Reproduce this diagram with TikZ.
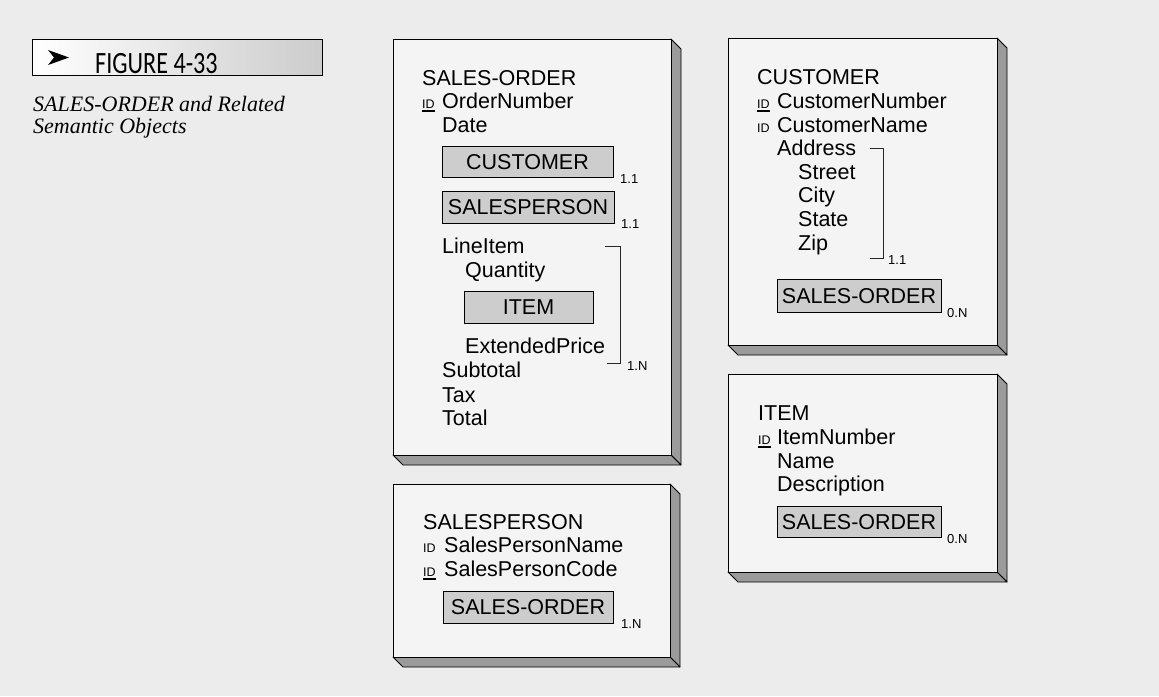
\documentclass[tikz,border=0pt]{standalone}
\usepackage{fontspec}
\setmainfont{Liberation Sans}
\newfontfamily\capserif{Liberation Serif}
\newfontfamily\figfont{Carlito}
\definecolor{bgcol}{RGB}{236,236,236}
\definecolor{facecol}{RGB}{244,244,244}
\definecolor{sidecol}{RGB}{155,155,155}
\definecolor{refcol}{RGB}{205,205,205}
\newcommand\attrfont{\fontsize{21.5}{24}\selectfont}
\newcommand\cardfont{\fontsize{13}{14}\selectfont}
\newcommand\idfont{\fontsize{12.5}{13}\selectfont}
\newcommand\semobj[4]{%
  \filldraw[side] (#3,#2) -- (#3+10,#2+10) -- (#3+10,#4+10) -- (#3,#4) -- cycle;
  \filldraw[side] (#1,#4) -- (#3,#4) -- (#3+10,#4+10) -- (#1+10,#4+10) -- cycle;
  \filldraw[face] (#1,#2) rectangle (#3,#4);}
\begin{document}
\begin{tikzpicture}[x=1pt,y=-1pt,
  face/.style={fill=facecol,draw=black,line width=1pt},
  side/.style={fill=sidecol,draw=black,line width=0.8pt,line join=round},
  attr/.style={anchor=base west,inner sep=0pt,font=\attrfont},
  idt/.style={anchor=base west,inner sep=0pt,font=\idfont},
  card/.style={anchor=base west,inner sep=0pt,font=\cardfont},
  refbox/.style={draw=black,fill=refcol,line width=0.8pt,inner sep=0pt,
     font=\attrfont,text height=15.4pt,text depth=0pt},
  brk/.style={draw=black!85,line width=0.7pt},
  uline/.style={draw=black,line width=1.2pt},
  captext/.style={anchor=base west,inner sep=0pt,font=\capserif\itshape\fontsize{22}{24}\selectfont}]
\useasboundingbox (0,0) rectangle (1159,696);
\fill[bgcol] (0,0) rectangle (1159,696);

% caption
\shade[left color=white,right color=gray!40] (32,39) rectangle (322,75);
\draw[black,line width=1pt] (32,39) rectangle (322,75);
\fill[black] (48,50) -- (69,57.5) -- (48,65) -- (54,57.5) -- cycle;
\node[anchor=base west,inner sep=0pt,font=\figfont\fontsize{31}{32}\selectfont] (fig) at (95,73) {\scalebox{0.78}[1]{FIGURE 4-33}};
\node[captext] (cap1) at (33,111) {SALES-ORDER and Related};
\node[captext] (cap2) at (33,133) {Semantic Objects};

% ---------- SALES-ORDER ----------
\semobj{393}{39}{671}{455}
\node[attr] (soH) at (422,85) {SALES-ORDER};
\node[idt] (soId) at (422,108) {ID};
\draw[uline] (422,111) -- (435,111);
\node[attr] (soNum) at (442,108) {OrderNumber};
\node[attr] (soDate) at (442,132) {Date};
\node[refbox,minimum width=171,minimum height=31] (soCust) at (527.5,161.5) {CUSTOMER};
\node[card] (soCustC) at (620,183) {1.1};
\node[refbox,minimum width=172,minimum height=32] (soSp) at (528,207) {SALESPERSON};
\node[card] (soSpC) at (621,228) {1.1};
\node[attr] (soLi) at (442,253) {LineItem};
\node[attr] (soQty) at (465,277) {Quantity};
\node[refbox,minimum width=129,minimum height=32] (soItem) at (528.5,307) {ITEM};
\node[attr] (soExt) at (465,353) {ExtendedPrice};
\draw[brk] (605,246) -- (620,246) -- (620,363) -- (607,363);
\node[card] (soLiC) at (627,370) {1.N};
\node[attr] (soSub) at (442,377) {Subtotal};
\node[attr] (soTax) at (442,402) {Tax};
\node[attr] (soTot) at (442,425) {Total};

% ---------- SALESPERSON ----------
\semobj{393}{484}{670}{657}
\node[attr] (spH) at (423,529) {SALESPERSON};
\node[idt] (spId1) at (423,552) {ID};
\node[attr] (spName) at (444,552) {SalesPersonName};
\node[idt] (spId2) at (423,576) {ID};
\draw[uline] (423,579) -- (436,579);
\node[attr] (spCode) at (444,576) {SalesPersonCode};
\node[refbox,minimum width=170,minimum height=32] (spSo) at (528,607) {SALES-ORDER};
\node[card] (spSoC) at (621,628) {1.N};

% ---------- CUSTOMER ----------
\semobj{728}{38}{997}{345}
\node[attr] (cuH) at (757,84) {CUSTOMER};
\node[idt] (cuId1) at (757,108) {ID};
\draw[uline] (757,111) -- (770,111);
\node[attr] (cuNum) at (777,108) {CustomerNumber};
\node[idt] (cuId2) at (757,132) {ID};
\node[attr] (cuName) at (777,132) {CustomerName};
\node[attr] (cuAddr) at (777,155) {Address};
\node[attr] (cuSt) at (798,179) {Street};
\node[attr] (cuCity) at (798,202) {City};
\node[attr] (cuState) at (798,226) {State};
\node[attr] (cuZip) at (798,250) {Zip};
\draw[brk] (870,148) -- (883,148) -- (883,258) -- (870,258);
\node[card] (cuAddrC) at (888,264) {1.1};
\node[refbox,minimum width=164,minimum height=33] (cuSo) at (859,295.5) {SALES-ORDER};
\node[card] (cuSoC) at (947,317) {0.N};

% ---------- ITEM ----------
\semobj{728}{374}{997}{572}
\node[attr] (itH) at (758,420) {ITEM};
\node[idt] (itId) at (758,444) {ID};
\draw[uline] (758,447) -- (771,447);
\node[attr] (itNum) at (777,444) {ItemNumber};
\node[attr] (itName) at (777,468) {Name};
\node[attr] (itDesc) at (777,491) {Description};
\node[refbox,minimum width=164,minimum height=31] (itSo) at (859,521.5) {SALES-ORDER};
\node[card] (itSoC) at (947,543) {0.N};
\end{tikzpicture}
\end{document}
